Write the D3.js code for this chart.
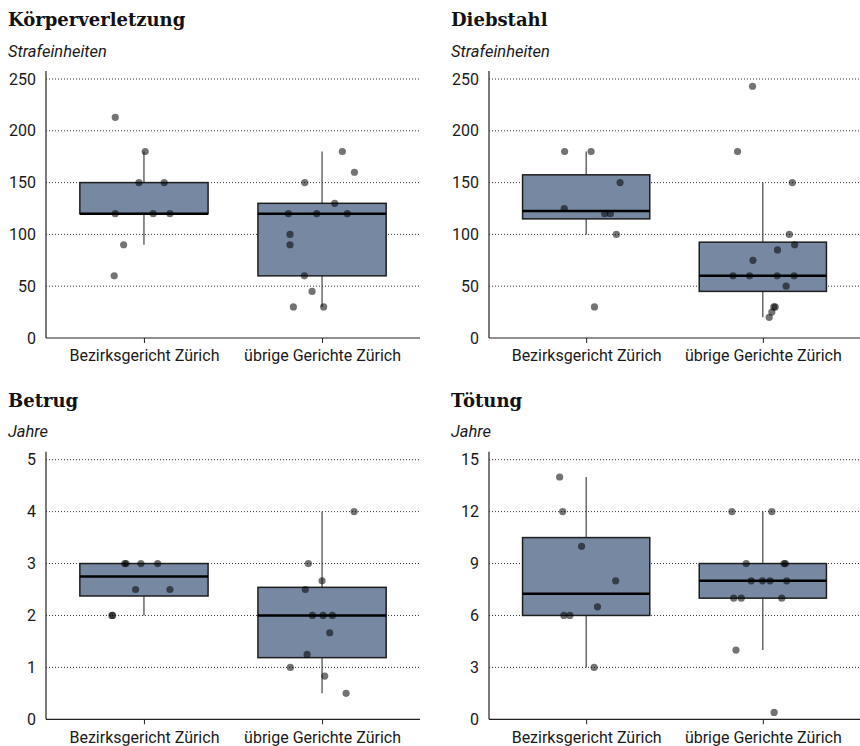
<!DOCTYPE html>
<html>
<head>
<meta charset="utf-8">
<script src="https://cdn.jsdelivr.net/npm/d3@7"></script>
<style>
  html, body { margin: 0; padding: 0; background: #fff; }
  svg { display: block; }
  .title { font-family: "DejaVu Serif", serif; font-weight: bold; font-size: 18px; fill: #111; }
  .unit { font-family: Roboto, "Noto Sans", sans-serif; font-style: italic; font-size: 16.5px; fill: #1a1a1a; }
  .tick-label { font-family: Roboto, "Noto Sans", sans-serif; font-size: 16px; fill: #1a1a1a; }
</style>
</head>
<body>
<svg id="chart" width="860" height="746"></svg>
<script>
// Courts compared in every panel
const categories = ["Bezirksgericht Zürich", "übrige Gerichte Zürich"];

const titles = ["Körperverletzung", "Diebstahl", "Betrug", "Tötung"];
const units = ["Strafeinheiten", "Strafeinheiten", "Jahre", "Jahre"];

// y-axis tick values per panel
const ticksStrafeinheiten = [0, 50, 100, 150, 200, 250];
const ticksBetrug = [0, 1, 2, 3, 4, 5];
const ticksToetung = [0, 3, 6, 9, 12, 15];

// Individual sentences (one value per case)
const koerperBezirk   = [213, 180, 150, 150, 120, 120, 120, 90, 60];
const koerperUebrige  = [150, 180, 160, 130, 120, 120, 120, 100, 90, 60, 45, 30, 30];
const diebstahlBezirk  = [180, 180, 150, 125, 120, 120, 100, 30];
const diebstahlUebrige = [243, 180, 150, 100, 90, 85, 75, 60, 60, 60, 60, 50, 30, 30, 25, 20];
const betrugBezirk   = [3, 3, 3, 3, 2.5, 2.5, 2, 2];
const betrugUebrige  = [4, 3, 2.667, 2.5, 2, 2, 2, 1.667, 1.25, 1, 0.833, 0.5];
const toetungBezirk  = [14, 12, 10, 8, 6.5, 6, 6, 3];
const toetungUebrige = [12, 12, 9, 9, 9, 8, 8, 8, 8, 7, 7, 7, 4, 0.4];

// Horizontal jitter of each case, as a share of the category step
const koerperBezirkJitter   = [-0.161, 0.007, -0.028, 0.114, -0.161, 0.052, 0.146, -0.114, -0.167];
const koerperUebrigeJitter  = [-0.097, 0.114, 0.182, 0.071, -0.189, -0.030, 0.142, -0.180, -0.180, -0.099, -0.056, -0.161, 0.009];
const diebstahlBezirkJitter  = [-0.122, 0.028, 0.192, -0.124, 0.105, 0.137, 0.171, 0.047];
const diebstahlUebrigeJitter = [-0.058, -0.143, 0.167, 0.150, 0.180, 0.083, -0.056, -0.169, -0.075, 0.081, 0.177, 0.132, 0.062, 0.070, 0.051, 0.036];
const betrugBezirkJitter   = [-0.108, -0.100, -0.017, 0.077, -0.047, 0.146, -0.180, -0.176];
const betrugUebrigeJitter  = [0.180, -0.077, 0.000, -0.094, -0.054, 0.006, 0.058, 0.043, -0.084, -0.178, 0.015, 0.135];
const toetungBezirkJitter  = [-0.150, -0.133, -0.026, 0.167, 0.064, -0.126, -0.092, 0.045];
const toetungUebrigeJitter = [-0.175, 0.051, -0.094, 0.120, 0.128, -0.066, -0.002, 0.041, 0.135, -0.165, -0.122, 0.107, -0.152, 0.064];

const panels = [
  { title: titles[0], unit: units[0], ticks: ticksStrafeinheiten,
    groups: [[koerperBezirk, koerperBezirkJitter], [koerperUebrige, koerperUebrigeJitter]] },
  { title: titles[1], unit: units[1], ticks: ticksStrafeinheiten,
    groups: [[diebstahlBezirk, diebstahlBezirkJitter], [diebstahlUebrige, diebstahlUebrigeJitter]] },
  { title: titles[2], unit: units[2], ticks: ticksBetrug,
    groups: [[betrugBezirk, betrugBezirkJitter], [betrugUebrige, betrugUebrigeJitter]] },
  { title: titles[3], unit: units[3], ticks: ticksToetung,
    groups: [[toetungBezirk, toetungBezirkJitter], [toetungUebrige, toetungUebrigeJitter]] }
];

// Panel frames (plot area edges)
const frames = [
  { left: 46,  right: 420, top: 79,    bottom: 338 },
  { left: 489, right: 860, top: 79,    bottom: 338 },
  { left: 46,  right: 420, top: 459.7, bottom: 719.3 },
  { left: 489, right: 860, top: 459.7, bottom: 719.3 }
];

const boxFill = "#7788a3";
const svg = d3.select("#chart");

// Tukey box statistics (type-7 quantiles, whiskers at 1.5 IQR)
function boxStats(values) {
  const s = values.slice().sort(d3.ascending);
  const q1 = d3.quantile(s, 0.25), med = d3.quantile(s, 0.5), q3 = d3.quantile(s, 0.75);
  const iqr = q3 - q1;
  const lo = d3.min(s.filter(v => v >= q1 - 1.5 * iqr));
  const hi = d3.max(s.filter(v => v <= q3 + 1.5 * iqr));
  return { q1, med, q3, lo, hi };
}

panels.forEach((p, i) => {
  const f = frames[i];
  const g = svg.append("g");

  const y = d3.scaleLinear()
    .domain([0, d3.max(p.ticks)])
    .range([f.bottom, f.top]);

  const x = d3.scalePoint()
    .domain(categories)
    .range([f.left, f.right])
    .padding(0.55);
  const step = x.step();
  const boxW = step * 0.72;

  // Title and unit
  g.append("text").attr("class", "title")
    .attr("x", f.left - 38).attr("y", f.top - 53)
    .text(p.title);
  g.append("text").attr("class", "unit")
    .attr("x", f.left - 38).attr("y", f.top - 22.5)
    .text(p.unit);

  // Dotted grid lines
  g.append("g").selectAll("line")
    .data(p.ticks.filter(t => t > 0))
    .join("line")
    .attr("x1", f.left).attr("x2", f.right)
    .attr("y1", d => y(d)).attr("y2", d => y(d))
    .attr("stroke", "#333").attr("stroke-width", 1)
    .attr("stroke-dasharray", "1,2");

  // y axis
  const yAxis = g.append("g")
    .attr("transform", `translate(${f.left},0)`)
    .call(d3.axisLeft(y).tickValues(p.ticks).tickFormat(d3.format("~")).tickSize(0).tickPadding(10));
  yAxis.select(".domain").remove();
  yAxis.selectAll("text").attr("class", "tick-label").attr("font-family", null).attr("font-size", null).attr("fill", null);
  g.append("line")
    .attr("x1", f.left).attr("x2", f.left)
    .attr("y1", f.top - 8).attr("y2", f.bottom)
    .attr("stroke", "#222").attr("stroke-width", 1.2);

  // x axis
  const xAxis = g.append("g")
    .attr("transform", `translate(0,${f.bottom})`)
    .call(d3.axisBottom(x).tickSize(5).tickPadding(7));
  xAxis.select(".domain").remove();
  xAxis.selectAll(".tick line").attr("stroke", "#222").attr("stroke-width", 1);
  xAxis.selectAll("text").attr("class", "tick-label").attr("font-family", null).attr("font-size", null).attr("fill", null);
  g.append("line")
    .attr("x1", f.left).attr("x2", f.right)
    .attr("y1", f.bottom).attr("y2", f.bottom)
    .attr("stroke", "#222").attr("stroke-width", 1.2);

  // Boxes
  p.groups.forEach(([vals], k) => {
    const s = boxStats(vals);
    const cx = x(categories[k]);
    const bg = g.append("g");
    bg.append("line")
      .attr("x1", cx).attr("x2", cx).attr("y1", y(s.q3)).attr("y2", y(s.hi))
      .attr("stroke", "#333").attr("stroke-width", 1.1);
    bg.append("line")
      .attr("x1", cx).attr("x2", cx).attr("y1", y(s.q1)).attr("y2", y(s.lo))
      .attr("stroke", "#333").attr("stroke-width", 1.1);
    bg.append("rect")
      .attr("x", cx - boxW / 2).attr("width", boxW)
      .attr("y", y(s.q3)).attr("height", y(s.q1) - y(s.q3))
      .attr("fill", boxFill).attr("stroke", "#1e1e1e").attr("stroke-width", 1.5);
    bg.append("line")
      .attr("x1", cx - boxW / 2).attr("x2", cx + boxW / 2)
      .attr("y1", y(s.med)).attr("y2", y(s.med))
      .attr("stroke", "#000").attr("stroke-width", 2.5);
  });

  // Jittered individual cases
  p.groups.forEach(([vals, jit], k) => {
    const cx = x(categories[k]);
    g.append("g").selectAll("circle")
      .data(vals.map((v, j) => ({ v, j: jit[j] })))
      .join("circle")
      .attr("cx", d => cx + d.j * step)
      .attr("cy", d => y(d.v))
      .attr("r", 3.6)
      .attr("fill", "#000")
      .attr("fill-opacity", 0.55);
  });
});
</script>
</body>
</html>
